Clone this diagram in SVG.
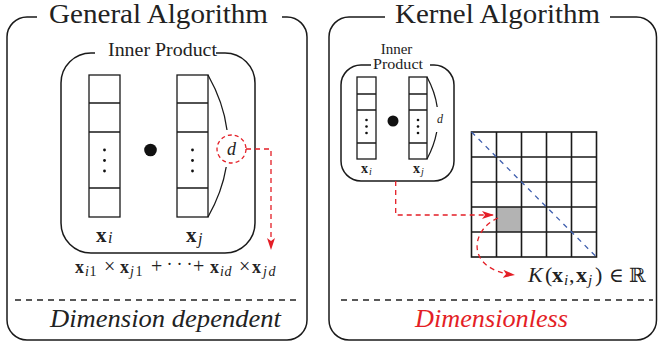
<svg xmlns="http://www.w3.org/2000/svg" width="659" height="347" viewBox="0 0 659 347">
<defs>
<style>
.frame{fill:none;stroke:#1a1a1a;stroke-width:1.5}
.cell{fill:#fff;stroke:#1a1a1a;stroke-width:1.3}
.ln{fill:none;stroke:#1a1a1a;stroke-width:1.3}
.grid{fill:none;stroke:#1a1a1a;stroke-width:1.6}
.t{font-family:"Liberation Serif","DejaVu Serif",serif;fill:#222}
.b{font-weight:bold}
.i{font-style:italic}
.red{fill:none;stroke:#e41e26;stroke-width:1.3;stroke-dasharray:5,4}
.sep{fill:none;stroke:#222;stroke-width:1.3;stroke-dasharray:6,5}
.dot{fill:#111}
</style>
<marker id="ah" viewBox="0 0 12 8" refX="12" refY="4" markerWidth="12" markerHeight="8" markerUnits="userSpaceOnUse" orient="auto"><path d="M0,0 L12,4 L0,8 L3,4 z" fill="#e41e26"/></marker>
</defs>
<rect width="659" height="347" fill="#fff"/>

<g id="general-panel">
<path class="frame" d="M37,17 H27 A20,20 0 0 0 7,37 V320 A20,20 0 0 0 27,340 H287 A20,20 0 0 0 307,320 V37 A20,20 0 0 0 287,17 H282"/>
<text class="t" x="49" y="23" font-size="27" textLength="219" lengthAdjust="spacingAndGlyphs">General Algorithm</text>
<line class="sep" x1="15" y1="300" x2="301" y2="300"/>
<text class="t i" x="50" y="327" font-size="25" textLength="231" lengthAdjust="spacingAndGlyphs">Dimension dependent</text>
</g>

<g id="inner-product-general">
<path class="frame" d="M95,53 H91 A30,30 0 0 0 61,83 V223 A30,30 0 0 0 91,253 H225 A30,30 0 0 0 255,223 V83 A30,30 0 0 0 225,53 H216"/>
<text class="t" x="108" y="56" font-size="19" textLength="109" lengthAdjust="spacingAndGlyphs">Inner Product</text>
</g>

<g id="vector-xi-general">
<rect class="cell" x="89" y="75" width="31" height="142"/>
<path class="ln" d="M89,103 H120 M89,132 H120 M89,188 H120"/>
<circle class="dot" cx="104.5" cy="150" r="1.4"/>
<circle class="dot" cx="104.5" cy="160.5" r="1.4"/>
<circle class="dot" cx="104.5" cy="171" r="1.4"/>
<text class="t" y="242" font-size="21"><tspan class="b" x="96">x</tspan><tspan class="i" x="108" y="243" font-size="16">i</tspan></text>
</g>

<g id="dot-general"><circle class="dot" cx="150.5" cy="150" r="6.3"/></g>

<g id="vector-xj-general">
<rect class="cell" x="177" y="75" width="31" height="142"/>
<path class="ln" d="M177,103 H208 M177,132 H208 M177,188 H208"/>
<circle class="dot" cx="192.5" cy="150" r="1.4"/>
<circle class="dot" cx="192.5" cy="160.5" r="1.4"/>
<circle class="dot" cx="192.5" cy="171" r="1.4"/>
<text class="t" y="242" font-size="21"><tspan class="b" x="186">x</tspan><tspan class="i" x="198" y="244" font-size="16">j</tspan></text>
<path class="ln" d="M208,75 Q223.5,102.5 227,130 M226.2,167 Q222.1,192 208,217"/>
</g>

<g id="d-general">
<ellipse cx="231.5" cy="149" rx="14.5" ry="14" fill="#fff" stroke="#e41e26" stroke-width="1.3" stroke-dasharray="4,3"/>
<text class="t i" x="231.5" y="155" font-size="18" text-anchor="middle">d</text>
</g>

<g id="formula">
<text class="t" y="273" font-size="18"><tspan class="b" x="75">x</tspan><tspan class="i" x="85" y="276" font-size="14">i</tspan><tspan x="89.5" y="276" font-size="14">1</tspan><tspan x="104" y="273" font-size="20">×</tspan><tspan class="b" x="120" y="273">x</tspan><tspan class="i" x="130" y="276" font-size="14">j</tspan><tspan x="135.5" y="276" font-size="14">1</tspan><tspan x="151" y="273" font-size="20">+</tspan><tspan x="166.5" y="270" font-size="18">·</tspan><tspan x="176.5" y="270" font-size="18">·</tspan><tspan x="186.5" y="270" font-size="18">·</tspan><tspan x="193" y="273" font-size="20">+</tspan><tspan class="b" x="210" y="273">x</tspan><tspan class="i" x="220" y="276" font-size="14">i</tspan><tspan class="i" x="224.5" y="276" font-size="14">d</tspan><tspan x="239" y="273" font-size="20">×</tspan><tspan class="b" x="252" y="273">x</tspan><tspan class="i" x="263" y="276" font-size="14">j</tspan><tspan class="i" x="268.5" y="276" font-size="14">d</tspan></text>
</g>

<g id="kernel-panel">
<path class="frame" d="M385,17 H349 A20,20 0 0 0 329,37 V320 A20,20 0 0 0 349,340 H636.5 A20,20 0 0 0 656.5,320 V37 A20,20 0 0 0 636.5,17 H610"/>
<text class="t" x="395" y="23" font-size="27" textLength="205" lengthAdjust="spacingAndGlyphs">Kernel Algorithm</text>
<line class="sep" x1="341" y1="300" x2="653" y2="300"/>
<text class="t i" x="415" y="327" font-size="25" style="fill:#e41e26" textLength="153" lengthAdjust="spacingAndGlyphs">Dimensionless</text>
</g>

<g id="inner-product-kernel">
<path class="frame" d="M371,65 H361 A20,20 0 0 0 341,85 V161 A20,20 0 0 0 361,181 H434 A20,20 0 0 0 454,161 V85 A20,20 0 0 0 434,65 H430"/>
<text class="t" x="396.5" y="54" font-size="15" text-anchor="middle">Inner</text>
<text class="t" x="373" y="68.5" font-size="15" textLength="50" lengthAdjust="spacingAndGlyphs">Product</text>
<rect class="cell" x="357" y="77" width="19" height="82"/>
<path class="ln" d="M357,94 H376 M357,110 H376 M357,143 H376"/>
<circle class="dot" cx="366.5" cy="120" r="1.3"/>
<circle class="dot" cx="366.5" cy="126.5" r="1.3"/>
<circle class="dot" cx="366.5" cy="133" r="1.3"/>
<circle class="dot" cx="393" cy="121" r="5.5"/>
<rect class="cell" x="409" y="77" width="18" height="82"/>
<path class="ln" d="M409,94 H427 M409,110 H427 M409,143 H427"/>
<circle class="dot" cx="418" cy="120" r="1.3"/>
<circle class="dot" cx="418" cy="126.5" r="1.3"/>
<circle class="dot" cx="418" cy="133" r="1.3"/>
<path class="ln" d="M427,77 Q435.1,92 437.2,107 M436.7,132 Q434.2,145.5 427,159"/>
<text class="t i" x="440" y="123" font-size="12" text-anchor="middle">d</text>
<text class="t" y="173" font-size="14"><tspan class="b" x="361">x</tspan><tspan class="i" x="369" y="175" font-size="10">i</tspan></text>
<text class="t" y="173" font-size="14"><tspan class="b" x="413">x</tspan><tspan class="i" x="421" y="175" font-size="10">j</tspan></text>
</g>

<g id="kernel-matrix">
<rect x="496.5" y="207" width="25" height="25" fill="#b3b3b3"/>
<rect class="grid" x="471.5" y="132" width="125" height="125"/>
<path class="grid" d="M496.5,132 V257 M521.5,132 V257 M546.5,132 V257 M571.5,132 V257 M471.5,157 H596.5 M471.5,182 H596.5 M471.5,207 H596.5 M471.5,232 H596.5"/>
<path d="M471.5,132 L596.5,257" fill="none" stroke="#3f5fae" stroke-width="1.3" stroke-dasharray="5,5"/>
</g>

<g id="kernel-value">
<text class="t" y="282" font-size="22"><tspan class="i" x="528">K</tspan><tspan x="545">(</tspan><tspan class="b" x="552">x</tspan><tspan class="i" x="564" y="285" font-size="15">i</tspan><tspan x="569" y="282">,</tspan><tspan class="b" x="576">x</tspan><tspan class="i" x="588" y="285" font-size="15">j</tspan><tspan x="595" y="282">)</tspan><tspan x="609" y="282" font-size="20">∈</tspan><tspan x="629" y="282" font-size="20">ℝ</tspan></text>
</g>

<g id="connectors">
<path class="red" d="M246,149 H271 V250" marker-end="url(#ah)"/>
<path class="red" d="M395.7,181 V215 H494" marker-end="url(#ah)"/>
<path class="red" d="M498,218 C470,230 465,270 515,275" marker-end="url(#ah)"/>
</g>
</svg>
